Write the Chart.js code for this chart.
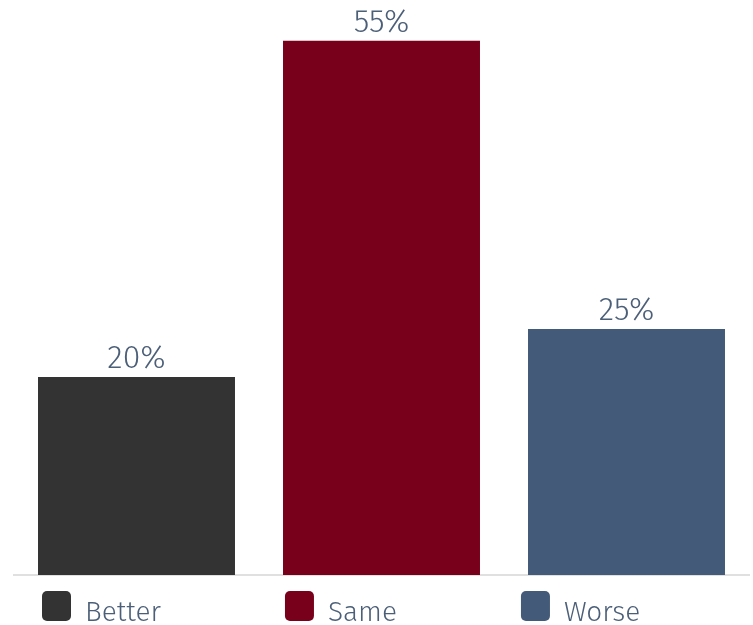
<!DOCTYPE html>
<html>
<head>
<meta charset="utf-8">
<title>Better / Same / Worse</title>
<script src="https://cdn.jsdelivr.net/npm/chart.js@4/dist/chart.umd.min.js"></script>
<style>
  html, body { margin: 0; padding: 0; background: #fff; }
  #wrap { width: 753px; height: 625px; position: relative; }
</style>
</head>
<body>
<div id="wrap"><canvas id="graph"></canvas></div>
<script>
// categories and their shares (percent)
const categories = ['Better', 'Same', 'Worse'];
const shares = [20, 55, 25];
const barColors = ['#333333', '#79001b', '#435a78'];

const textColor = '#4c5f78';
const fontFamily = '"Fira Sans", "Open Sans", Lato, sans-serif';

//---------------------------------------------
// value labels on top of each bar
const valueLabels = {
  id: 'valueLabels',
  afterDatasetsDraw(chart) {
    const ctx = chart.ctx;
    const meta = chart.getDatasetMeta(0);
    ctx.save();
    ctx.font = '300 32px ' + fontFamily;
    ctx.fillStyle = textColor;
    ctx.textAlign = 'center';
    ctx.textBaseline = 'alphabetic';
    meta.data.forEach((bar, i) => {
      ctx.fillText(shares[i] + '%', bar.x, bar.y - 9);
    });
    ctx.restore();
  }
};

// legend row under the axis: rounded swatch + label
const legendRow = {
  id: 'legendRow',
  afterDraw(chart) {
    const ctx = chart.ctx;
    const area = chart.chartArea;
    ctx.save();
    ctx.font = '300 28px ' + fontFamily;
    ctx.textBaseline = 'alphabetic';
    let x = area.left + 28;
    const top = area.bottom + 16;
    categories.forEach((name, i) => {
      ctx.fillStyle = barColors[i];
      ctx.beginPath();
      ctx.roundRect(x, top, 29, 30, 5);
      ctx.fill();
      ctx.fillStyle = textColor;
      ctx.fillText(name, x + 43, top + 30);
      x += 43 + ctx.measureText(name).width + 124;
    });
    ctx.restore();
  }
};

//---------------------------------------------
const yMin = -0.625;

const cfgBar = {
  type: 'bar',
  data: {
    labels: categories,
    datasets: [{
      data: shares,
      backgroundColor: barColors,
      base: yMin,
      categoryPercentage: 1,
      barPercentage: 0.804
    }]
  },
  options: {
    responsive: true,
    maintainAspectRatio: false,
    animation: false,
    layout: { padding: { left: 14, right: 4, top: 12, bottom: 50 } },
    plugins: {
      legend: { display: false },
      tooltip: { enabled: false }
    },
    scales: {
      x: {
        grid: { display: false, drawTicks: false },
        border: { display: true, color: '#e0e0e0', width: 2 },
        ticks: { display: false }
      },
      y: {
        display: false,
        min: yMin,
        max: 58
      }
    }
  },
  plugins: [valueLabels, legendRow]
};

new Chart(document.getElementById('graph'), cfgBar);
</script>
</body>
</html>
